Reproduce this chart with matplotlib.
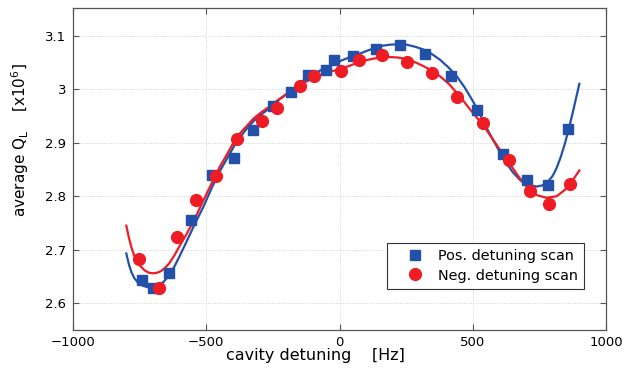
import matplotlib
matplotlib.use("Agg")
import matplotlib.pyplot as plt

# Measured data points
pos_x = [-742, -699, -639, -557, -480, -396, -323, -248, -182, -117, -50, -22, 52, 137, 227, 322, 420, 515, 612, 702, 782, 859]
pos_y = [2.644, 2.629, 2.657, 2.755, 2.840, 2.871, 2.924, 2.969, 2.995, 3.027, 3.036, 3.054, 3.062, 3.075, 3.083, 3.066, 3.024, 2.961, 2.879, 2.831, 2.821, 2.925]

neg_x = [-752, -676, -611, -540, -464, -386, -292, -233, -149, -95, 4, 72, 161, 254, 346, 440, 540, 637, 715, 787, 865]
neg_y = [2.683, 2.629, 2.723, 2.792, 2.838, 2.906, 2.940, 2.964, 3.006, 3.025, 3.034, 3.054, 3.063, 3.050, 3.031, 2.986, 2.937, 2.868, 2.809, 2.786, 2.823]

# Fit curves
pos_fit_x = [-800, -790, -780, -770, -755, -740, -720, -700, -680, -660, -640, -620, -600, -575, -545,
             -510, -480, -450, -420, -386, -350, -323, -290, -261, -230, -198, -170, -136, -100, -60,
             -10, 40, 64, 100, 127, 160, 189, 220, 252, 285, 315, 345, 377, 410, 440, 470, 500, 530,
             560, 590, 620, 650, 680, 710, 740, 760, 780, 800, 815, 830, 845, 860, 877, 900]
pos_fit_y = [2.693, 2.672, 2.657, 2.647, 2.638, 2.633, 2.630, 2.630, 2.633, 2.640, 2.652, 2.668, 2.688, 2.714, 2.746,
             2.781, 2.815, 2.846, 2.872, 2.902, 2.925, 2.940, 2.954, 2.965, 2.979, 2.991, 3.002, 3.016, 3.028, 3.038,
             3.050, 3.060, 3.064, 3.071, 3.076, 3.081, 3.083, 3.084, 3.083, 3.079, 3.074, 3.066, 3.055, 3.040, 3.024, 3.003, 2.978, 2.950,
             2.920, 2.893, 2.866, 2.845, 2.829, 2.821, 2.818, 2.820, 2.826, 2.838, 2.853, 2.873, 2.897, 2.925, 2.960, 3.010]

neg_fit_x = [-800, -790, -780, -770, -760, -745, -730, -715, -700, -685, -670, -655, -640, -620, -600,
             -573, -542, -511, -480, -448, -420, -386, -350, -323, -290, -261, -230, -198, -170, -136,
             -100, -60, -10, 40, 64, 100, 127, 160, 189, 220, 252, 285, 315, 345, 377, 410, 440, 465,
             490, 540, 577, 610, 640, 670, 702, 740, 777, 815, 846, 871, 900]
neg_fit_y = [2.745, 2.722, 2.703, 2.689, 2.679, 2.668, 2.661, 2.657, 2.656, 2.657, 2.660, 2.666, 2.674, 2.689, 2.707,
             2.730, 2.759, 2.792, 2.824, 2.856, 2.880, 2.911, 2.930, 2.945, 2.958, 2.968, 2.980, 2.991, 3.001, 3.011,
             3.021, 3.029, 3.036, 3.044, 3.049, 3.054, 3.057, 3.059, 3.060, 3.059, 3.056, 3.050, 3.043, 3.035, 3.024, 3.010, 2.993, 2.978,
             2.962, 2.932, 2.905, 2.881, 2.860, 2.838, 2.818, 2.802, 2.797, 2.800, 2.812, 2.827, 2.848]

x_ticks = [-1000, -500, 0, 500, 1000]
y_ticks = [2.6, 2.7, 2.8, 2.9, 3.0, 3.1]
y_tick_labels = ["2.6", "2.7", "2.8", "2.9", "3", "3.1"]

blue = "#2350a8"
red = "#ee1c25"

plt.rcParams['font.family'] = ['DejaVu Sans']

fig = plt.figure(figsize=(6.35, 3.74), dpi=100)
ax = fig.add_axes([73/635, 1 - 329.5/374, (606 - 73)/635, (329.5 - 8.3)/374])

ax.plot(pos_fit_x, pos_fit_y, color=blue, lw=1.6, zorder=3)
ax.plot(neg_fit_x, neg_fit_y, color=red, lw=1.6, zorder=3)
ax.plot(pos_x, pos_y, ls='none', marker='s', ms=7, color=blue, mec=blue,
        label='Pos. detuning scan', zorder=4)
ax.plot(neg_x, neg_y, ls='none', marker='o', ms=8.5, color=red, mec=red,
        label='Neg. detuning scan', zorder=5)

ax.set_xlim(-1000, 1000)
ax.set_ylim(2.551, 3.151)
ax.set_xticks(x_ticks)
ax.set_yticks(y_ticks)
ax.set_yticklabels(y_tick_labels)
ax.grid(True, ls=':', lw=0.6, color='#c8c8c8')
ax.set_axisbelow(True)
ax.tick_params(direction='in', length=4, width=0.8, color='#555555',
               top=True, right=True, labelsize=9.5, pad=5)
for s in ax.spines.values():
    s.set_color('#555555')
    s.set_linewidth(0.9)

ax.set_xlabel('cavity detuning    [Hz]', fontsize=11.5)
ax.xaxis.set_label_coords(0.454, -0.058)
ax.set_ylabel(r'average Q$_\mathrm{L}$    [x10$^6$]', fontsize=11)
ax.yaxis.set_label_coords(-0.079, 0.59)

leg = ax.legend(loc='lower right', bbox_to_anchor=(0.959, 0.126), borderaxespad=0,
                fancybox=False, framealpha=1, edgecolor='#333333', fontsize=10.4,
                handlelength=2.9, handletextpad=0.15, borderpad=0.45, labelspacing=0.35)
leg.get_frame().set_linewidth(0.8)

fig.savefig('out.png', dpi=100)
